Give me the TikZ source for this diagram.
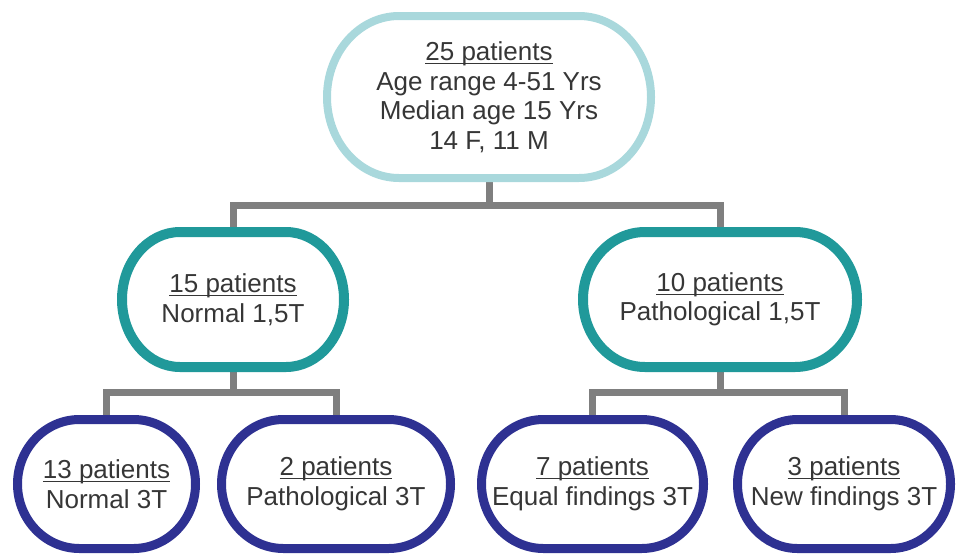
\documentclass[tikz,border=0pt]{standalone}
\usepackage{fontspec}
\setmainfont{Liberation Sans}
\usetikzlibrary{calc}
\definecolor{topc}{HTML}{A9D8DC}
\definecolor{tealc}{HTML}{20999A}
\definecolor{navyc}{HTML}{2E3192}
\definecolor{grayc}{HTML}{7F7F7F}
\definecolor{txtc}{HTML}{363636}
% underline set close below the baseline
\newcommand\ulin[1]{\setbox0\hbox{#1}\rlap{\rule[-3.5pt]{\wd0}{1.3pt}}\box0}
% stadium outline with elliptical ends round a node: name, x radius, y radius, style
\newcommand\stad[4]{%
  \draw[#4] ($(#1.north east)+(-#2pt,0pt)$) -- ($(#1.north west)+(#2pt,0pt)$)
    arc[start angle=90,end angle=270,x radius=#2pt,y radius=#3pt]
    -- ($(#1.south east)+(-#2pt,0pt)$)
    arc[start angle=-90,end angle=90,x radius=#2pt,y radius=#3pt] -- cycle;}
\begin{document}
\begin{tikzpicture}[x=1pt,y=-1pt,
  box/.style={align=center, inner sep=0pt, outer sep=0pt, text=txtc,
    font=\fontsize{26}{29.5}\selectfont},
  topline/.style={draw=topc, line width=8pt},
  midline/.style={draw=tealc, line width=10pt},
  lowline/.style={draw=navyc, line width=9pt},
  conn/.style={draw=grayc, line width=7pt, line join=miter}]
\useasboundingbox (0,0) rectangle (957,557);
\node[box, minimum width=324pt, minimum height=162pt] (top) at (489,97)
  {\ulin{25 patients}\\Age range 4-51 Yrs\\Median age 15 Yrs\\14 F, 11 M};
\node[box, minimum width=222pt, minimum height=135pt] (midL) at (233,299.5)
  {\ulin{15 patients}\\Normal 1,5T};
\node[box, minimum width=274pt, minimum height=135pt] (midR) at (720,299.5)
  {\ulin{10 patients}\\Pathological 1,5T};
\node[box, minimum width=178pt, minimum height=129pt] (b1) at (106.5,484)
  {\ulin{13 patients}\\Normal 3T};
\node[box, minimum width=229pt, minimum height=129pt] (b2) at (336,484)
  {\ulin{2 patients}\\Pathological 3T};
\node[box, minimum width=222pt, minimum height=129pt] (b3) at (592.5,484)
  {\ulin{7 patients}\\Equal findings 3T};
\node[box, minimum width=213pt, minimum height=129pt] (b4) at (844,484)
  {\ulin{3 patients}\\New findings 3T};
\coordinate (j1) at ($(top.south)+(0,27)$);
\coordinate (j2) at ($(midL.south)+(0,25)$);
\coordinate (j3) at ($(midR.south)+(0,25)$);
\draw[conn] (top.south) -- (j1);
\draw[conn] (midL.north) |- (j1) -| (midR.north);
\draw[conn] (midL.south) -- (j2);
\draw[conn] (b1.north) |- (j2) -| (b2.north);
\draw[conn] (midR.south) -- (j3);
\draw[conn] (b3.north) |- (j3) -| (b4.north);
\stad{top}{72}{81}{topline}
\stad{midL}{58}{67.5}{midline}
\stad{midR}{62}{67.5}{midline}
\stad{b1}{62}{64.5}{lowline}
\stad{b2}{62}{64.5}{lowline}
\stad{b3}{62}{64.5}{lowline}
\stad{b4}{60}{64.5}{lowline}
\end{tikzpicture}
\end{document}
